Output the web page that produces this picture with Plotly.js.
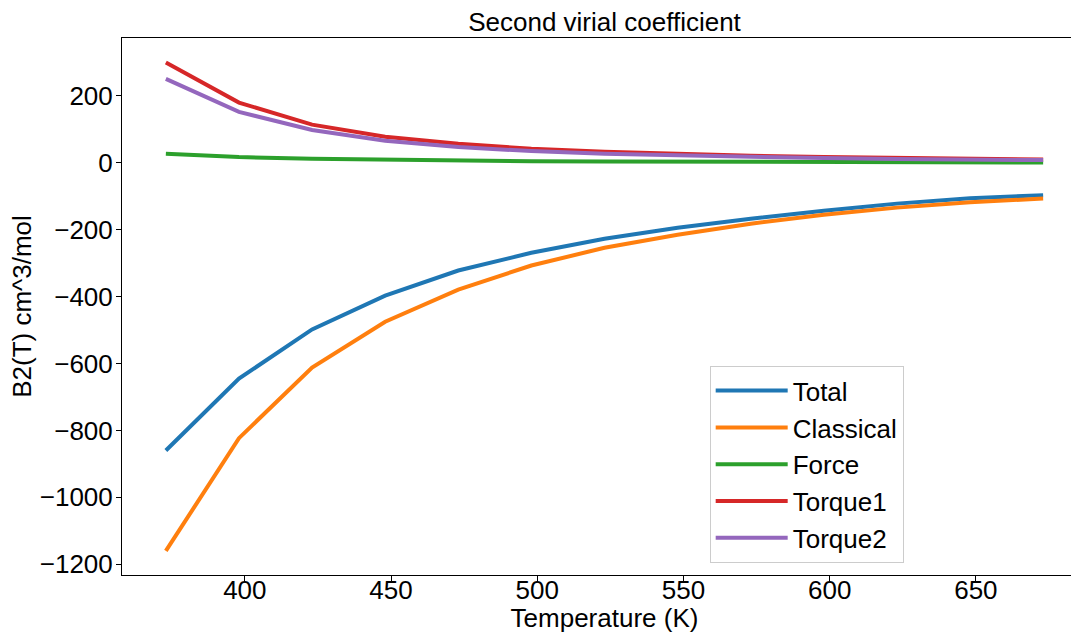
<!DOCTYPE html>
<html>
<head>
<meta charset="utf-8">
<script src="https://cdn.plot.ly/plotly-3.0.1.min.js"></script>
<style>html,body{margin:0;padding:0;background:#fff;overflow:hidden;width:1071px;height:633px;}#chart{width:1090px;height:633px;}</style>
</head>
<body>
<div id="chart"></div>
<script>
const temperature = [373, 398, 423, 448, 473, 498, 523, 548, 573, 598, 623, 648, 673];
const total     = [-860, -645, -498, -397, -322, -269, -227, -194, -167, -143, -122, -106, -97];
const classical = [-1160, -823, -612, -475, -379, -307, -254, -215, -182, -155, -134, -118, -107];
const force     = [27, 17, 12, 9, 6, 5, 4, 3, 2, 2, 1, 1, 1];
const torque1   = [300, 180, 114, 78, 57, 42, 33, 26, 21, 17, 14, 12, 10];
const torque2   = [251, 152, 98, 66, 47, 35, 27, 22, 17, 14, 11, 9, 8];

const names  = ["Total", "Classical", "Force", "Torque1", "Torque2"];
const series = [total, classical, force, torque1, torque2];
const colors = ["#1f77b4", "#ff7f0e", "#2ca02c", "#d62728", "#9467bd"];

const traces = series.map((ys, i) => ({
  x: temperature, y: ys, name: names[i], type: "scatter", mode: "lines",
  line: {color: colors[i], width: 4}
}));

const FAM = "Liberation Sans, Arial, sans-serif";
const f = (s) => ({family: FAM, size: s, color: "#000"});
const layout = {
  width: 1090, height: 633,
  margin: {l: 122, r: 3, t: 38, b: 58},
  paper_bgcolor: "#fff", plot_bgcolor: "#fff",
  font: f(26),
  title: {text: "Second virial coefficient", xref: "paper", x: 0.5, xanchor: "center", y: 0.965, yanchor: "middle", font: f(26)},
  xaxis: {
    range: [358, 688], dtick: 50, tick0: 400,
    showline: true, mirror: true, linecolor: "#000", linewidth: 1,
    ticks: "outside", ticklen: 5, tickcolor: "#000", showgrid: false, zeroline: false,
    tickfont: f(26), ticklabelstandoff: -13,
    title: {text: "Temperature (K)", font: f(26), standoff: 5}
  },
  yaxis: {
    range: [-1232, 373], dtick: 200, tick0: 0,
    showline: true, mirror: true, linecolor: "#000", linewidth: 1,
    ticks: "outside", ticklen: 5, tickcolor: "#000", showgrid: false, zeroline: false,
    tickfont: f(26), ticklabelstandoff: -2,
    title: {text: "B2(T) cm^3/mol", font: f(26), standoff: 0}
  },
  legend: {
    x: 0.609, y: 0.022, xanchor: "left", yanchor: "bottom",
    bgcolor: "rgba(255,255,255,0.8)", bordercolor: "#cccccc", borderwidth: 1,
    font: f(26), itemwidth: 72
  },
  showlegend: true
};

Plotly.newPlot("chart", traces, layout, {displayModeBar: false, staticPlot: true});
</script>
</body>
</html>
